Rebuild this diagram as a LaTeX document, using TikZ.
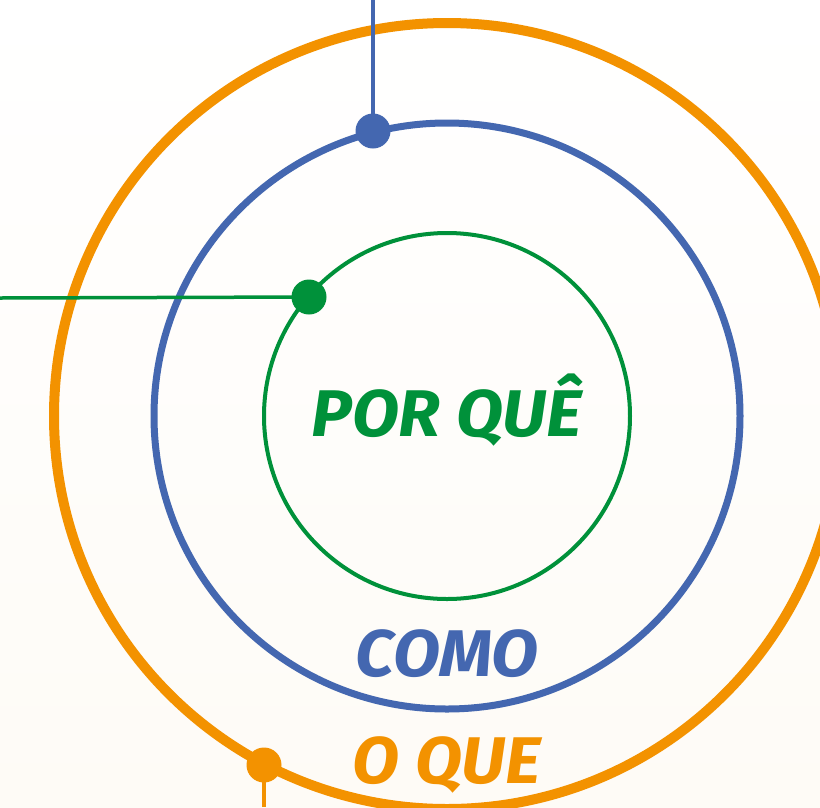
\documentclass[tikz,border=0pt]{standalone}
\usepackage{fontspec}
\setmainfont{Fira Sans}
\definecolor{orng}{HTML}{F39200}
\definecolor{blu}{HTML}{4467B0}
\definecolor{grn}{HTML}{00913A}
\definecolor{cream}{HTML}{FEFBF6}
\begin{document}
\begin{tikzpicture}[x=1pt,y=-1pt,
  ring/.style={circle,draw,inner sep=0pt,outer sep=0pt},
  dot/.style={circle,fill,inner sep=0pt,minimum size=35pt},
  label/.style={anchor=base,inner sep=0pt,xscale=1.04,font=\fontsize{66}{66}\selectfont\bfseries\itshape},
  lead/.style={line width=3.5pt}]
\useasboundingbox (0,0) rectangle (820,807);
\shade[top color=white,middle color=white,bottom color=cream] (0,0) rectangle (820,807);
\node[ring,draw=orng,line width=10pt,minimum size=786pt] (outer) at (447,416) {};
\node[ring,draw=blu,line width=7pt,minimum size=586pt] (middle) at (447,416) {};
\node[ring,draw=grn,line width=4pt,minimum size=366pt] (inner) at (447,416) {};
\node[dot,fill=blu] (bdot) at (373,131) {};
\node[dot,fill=grn] (gdot) at (309,297) {};
\node[dot,fill=orng] (odot) at (264,765) {};
\coordinate (btop) at (373,0);
\coordinate (gleft) at (0,298);
\coordinate (obot) at (264,807);
\draw[lead,blu] (btop) -- (bdot.center);
\draw[lead,grn] (gleft) -- (gdot.center);
\draw[lead,orng] (obot) -- (odot.center);
\node[label,text=grn] (why) at (447,436) {POR QUÊ};
\node[label,text=blu] (how) at (447,676) {COMO};
\node[label,text=orng] (what) at (447,783) {O QUE};
\end{tikzpicture}
\end{document}
